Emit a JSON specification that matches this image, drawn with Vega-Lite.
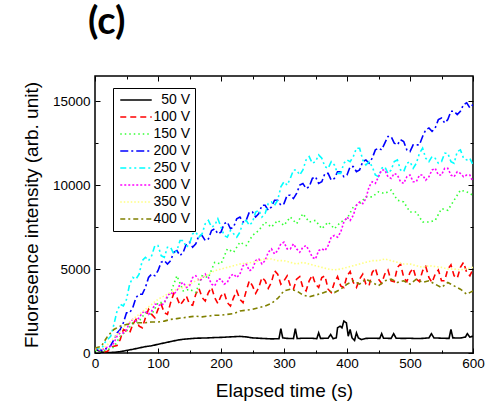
{
  "$schema": "https://vega.github.io/schema/vega-lite/v6.json",
  "width": 378,
  "height": 277,
  "autosize": {"type": "none"},
  "padding": {"left": 95, "top": 76, "right": 13, "bottom": 54},
  "background": "white",
  "title": {"text": "(c)", "anchor": "start", "frame": "group", "font": "Lato", "fontWeight": "bold", "fontSize": 38, "color": "black", "baseline": "alphabetic", "offset": 4, "dx": -7},
  "config": {
    "view": {"stroke": "black", "strokeWidth": 1.5},
    "axis": {"grid": false, "domain": false, "tickColor": "black", "tickWidth": 1, "labelFont": "Liberation Sans", "labelFontSize": 13.5, "labelColor": "black", "titleFont": "Liberation Sans", "titleFontSize": 19, "titleFontWeight": "normal", "titleColor": "black"},
    "legend": {"labelFont": "Liberation Sans", "labelFontSize": 14, "labelColor": "black"}
  },
  "data": {"values": [
    {"s":"50 V","t":0,"v":250},{"s":"50 V","t":5,"v":150},{"s":"50 V","t":10,"v":60},{"s":"50 V","t":20,"v":20},{"s":"50 V","t":30,"v":40},{"s":"50 V","t":40,"v":80},{"s":"50 V","t":50,"v":150},{"s":"50 V","t":60,"v":220},{"s":"50 V","t":70,"v":300},{"s":"50 V","t":80,"v":380},{"s":"50 V","t":90,"v":430},{"s":"50 V","t":100,"v":520},{"s":"50 V","t":110,"v":600},{"s":"50 V","t":120,"v":680},{"s":"50 V","t":130,"v":760},{"s":"50 V","t":140,"v":820},{"s":"50 V","t":150,"v":850},{"s":"50 V","t":160,"v":880},{"s":"50 V","t":170,"v":890},{"s":"50 V","t":180,"v":900},{"s":"50 V","t":190,"v":920},{"s":"50 V","t":200,"v":930},{"s":"50 V","t":210,"v":950},{"s":"50 V","t":220,"v":970},{"s":"50 V","t":230,"v":990},{"s":"50 V","t":240,"v":960},{"s":"50 V","t":250,"v":900},{"s":"50 V","t":260,"v":880},{"s":"50 V","t":270,"v":860},{"s":"50 V","t":280,"v":840},{"s":"50 V","t":292,"v":850},{"s":"50 V","t":295,"v":1450},{"s":"50 V","t":298,"v":900},{"s":"50 V","t":305,"v":870},{"s":"50 V","t":315,"v":860},{"s":"50 V","t":318,"v":1450},{"s":"50 V","t":321,"v":860},{"s":"50 V","t":330,"v":880},{"s":"50 V","t":345,"v":880},{"s":"50 V","t":352,"v":850},{"s":"50 V","t":355,"v":1200},{"s":"50 V","t":358,"v":870},{"s":"50 V","t":370,"v":880},{"s":"50 V","t":374,"v":1100},{"s":"50 V","t":378,"v":850},{"s":"50 V","t":383,"v":900},{"s":"50 V","t":385,"v":1500},{"s":"50 V","t":389,"v":1600},{"s":"50 V","t":392,"v":1500},{"s":"50 V","t":395,"v":1900},{"s":"50 V","t":399,"v":1800},{"s":"50 V","t":402,"v":1000},{"s":"50 V","t":405,"v":1400},{"s":"50 V","t":408,"v":900},{"s":"50 V","t":412,"v":750},{"s":"50 V","t":415,"v":1200},{"s":"50 V","t":418,"v":900},{"s":"50 V","t":423,"v":800},{"s":"50 V","t":430,"v":870},{"s":"50 V","t":440,"v":880},{"s":"50 V","t":452,"v":870},{"s":"50 V","t":455,"v":1150},{"s":"50 V","t":458,"v":880},{"s":"50 V","t":470,"v":870},{"s":"50 V","t":474,"v":1150},{"s":"50 V","t":478,"v":880},{"s":"50 V","t":490,"v":870},{"s":"50 V","t":500,"v":880},{"s":"50 V","t":510,"v":860},{"s":"50 V","t":520,"v":870},{"s":"50 V","t":530,"v":900},{"s":"50 V","t":534,"v":1150},{"s":"50 V","t":538,"v":900},{"s":"50 V","t":550,"v":880},{"s":"50 V","t":562,"v":870},{"s":"50 V","t":565,"v":1400},{"s":"50 V","t":568,"v":900},{"s":"50 V","t":580,"v":890},{"s":"50 V","t":588,"v":950},{"s":"50 V","t":591,"v":1150},{"s":"50 V","t":595,"v":950},{"s":"50 V","t":600,"v":1000},

    {"s":"100 V","t":0,"v":200},{"s":"100 V","t":10,"v":150},{"s":"100 V","t":20,"v":100},{"s":"100 V","t":30,"v":400},{"s":"100 V","t":40,"v":800},{"s":"100 V","t":50,"v":1300},{"s":"100 V","t":60,"v":1700},{"s":"100 V","t":70,"v":1600},{"s":"100 V","t":80,"v":2100},{"s":"100 V","t":90,"v":2300},{"s":"100 V","t":100,"v":2600},{"s":"100 V","t":110,"v":2400},{"s":"100 V","t":120,"v":3000},{"s":"100 V","t":130,"v":3300},{"s":"100 V","t":140,"v":3100},{"s":"100 V","t":150,"v":2900},{"s":"100 V","t":160,"v":3500},{"s":"100 V","t":170,"v":3300},{"s":"100 V","t":180,"v":3600},{"s":"100 V","t":190,"v":3300},{"s":"100 V","t":200,"v":3400},{"s":"100 V","t":210,"v":3000},{"s":"100 V","t":220,"v":3300},{"s":"100 V","t":230,"v":3200},{"s":"100 V","t":240,"v":3700},{"s":"100 V","t":250,"v":4000},{"s":"100 V","t":260,"v":3900},{"s":"100 V","t":270,"v":4300},{"s":"100 V","t":280,"v":4200},{"s":"100 V","t":290,"v":4700},{"s":"100 V","t":300,"v":4300},{"s":"100 V","t":310,"v":4000},{"s":"100 V","t":320,"v":4400},{"s":"100 V","t":330,"v":3900},{"s":"100 V","t":340,"v":4300},{"s":"100 V","t":350,"v":4100},{"s":"100 V","t":360,"v":4500},{"s":"100 V","t":370,"v":3800},{"s":"100 V","t":380,"v":4200},{"s":"100 V","t":390,"v":4000},{"s":"100 V","t":400,"v":4600},{"s":"100 V","t":410,"v":4200},{"s":"100 V","t":420,"v":4400},{"s":"100 V","t":430,"v":4100},{"s":"100 V","t":440,"v":4800},{"s":"100 V","t":450,"v":4400},{"s":"100 V","t":460,"v":4700},{"s":"100 V","t":470,"v":4300},{"s":"100 V","t":480,"v":5100},{"s":"100 V","t":490,"v":4500},{"s":"100 V","t":500,"v":4800},{"s":"100 V","t":510,"v":4400},{"s":"100 V","t":520,"v":4900},{"s":"100 V","t":530,"v":4500},{"s":"100 V","t":540,"v":4700},{"s":"100 V","t":550,"v":4300},{"s":"100 V","t":560,"v":5000},{"s":"100 V","t":570,"v":4600},{"s":"100 V","t":580,"v":5100},{"s":"100 V","t":590,"v":4800},{"s":"100 V","t":600,"v":5000},
    {"s":"100 V","t":5,"v":250},{"s":"100 V","t":15,"v":80},{"s":"100 V","t":25,"v":350},{"s":"100 V","t":35,"v":450},{"s":"100 V","t":45,"v":1400},{"s":"100 V","t":55,"v":1200},{"s":"100 V","t":65,"v":2000},{"s":"100 V","t":75,"v":1500},{"s":"100 V","t":85,"v":2600},{"s":"100 V","t":95,"v":2100},{"s":"100 V","t":105,"v":2900},{"s":"100 V","t":115,"v":2300},{"s":"100 V","t":125,"v":3550},{"s":"100 V","t":135,"v":2850},{"s":"100 V","t":145,"v":3400},{"s":"100 V","t":155,"v":2850},{"s":"100 V","t":165,"v":3850},{"s":"100 V","t":175,"v":3100},{"s":"100 V","t":185,"v":3900},{"s":"100 V","t":195,"v":2950},{"s":"100 V","t":205,"v":3600},{"s":"100 V","t":215,"v":2800},{"s":"100 V","t":225,"v":3700},{"s":"100 V","t":235,"v":3000},{"s":"100 V","t":245,"v":4300},{"s":"100 V","t":255,"v":3550},{"s":"100 V","t":265,"v":4500},{"s":"100 V","t":275,"v":3850},{"s":"100 V","t":285,"v":4900},{"s":"100 V","t":295,"v":4100},{"s":"100 V","t":305,"v":4600},{"s":"100 V","t":315,"v":3800},{"s":"100 V","t":325,"v":4550},{"s":"100 V","t":335,"v":3700},{"s":"100 V","t":345,"v":4650},{"s":"100 V","t":355,"v":3900},{"s":"100 V","t":365,"v":4600},{"s":"100 V","t":375,"v":3600},{"s":"100 V","t":385,"v":4550},{"s":"100 V","t":395,"v":3900},{"s":"100 V","t":405,"v":4850},{"s":"100 V","t":415,"v":3900},{"s":"100 V","t":425,"v":4700},{"s":"100 V","t":435,"v":4000},{"s":"100 V","t":445,"v":5050},{"s":"100 V","t":455,"v":4150},{"s":"100 V","t":465,"v":4950},{"s":"100 V","t":475,"v":4250},{"s":"100 V","t":485,"v":5300},{"s":"100 V","t":495,"v":4250},{"s":"100 V","t":505,"v":5050},{"s":"100 V","t":515,"v":4250},{"s":"100 V","t":525,"v":5150},{"s":"100 V","t":535,"v":4200},{"s":"100 V","t":545,"v":4950},{"s":"100 V","t":555,"v":4300},{"s":"100 V","t":565,"v":5250},{"s":"100 V","t":575,"v":4450},{"s":"100 V","t":585,"v":5400},{"s":"100 V","t":595,"v":4600},

    {"s":"150 V","t":0,"v":150},{"s":"150 V","t":10,"v":100},{"s":"150 V","t":20,"v":200},{"s":"150 V","t":30,"v":350},{"s":"150 V","t":40,"v":1000},{"s":"150 V","t":50,"v":1300},{"s":"150 V","t":60,"v":1800},{"s":"150 V","t":70,"v":1900},{"s":"150 V","t":80,"v":2400},{"s":"150 V","t":90,"v":2300},{"s":"150 V","t":100,"v":3000},{"s":"150 V","t":110,"v":3000},{"s":"150 V","t":120,"v":3600},{"s":"150 V","t":130,"v":4600},{"s":"150 V","t":140,"v":3700},{"s":"150 V","t":150,"v":3800},{"s":"150 V","t":160,"v":3600},{"s":"150 V","t":170,"v":4600},{"s":"150 V","t":180,"v":4500},{"s":"150 V","t":190,"v":5400},{"s":"150 V","t":200,"v":5300},{"s":"150 V","t":210,"v":6200},{"s":"150 V","t":220,"v":6000},{"s":"150 V","t":230,"v":6600},{"s":"150 V","t":240,"v":6400},{"s":"150 V","t":250,"v":7000},{"s":"150 V","t":260,"v":7300},{"s":"150 V","t":270,"v":7800},{"s":"150 V","t":280,"v":7500},{"s":"150 V","t":290,"v":7900},{"s":"150 V","t":300,"v":7600},{"s":"150 V","t":310,"v":8100},{"s":"150 V","t":320,"v":7700},{"s":"150 V","t":330,"v":8300},{"s":"150 V","t":340,"v":7800},{"s":"150 V","t":350,"v":7900},{"s":"150 V","t":360,"v":7400},{"s":"150 V","t":370,"v":7800},{"s":"150 V","t":380,"v":7400},{"s":"150 V","t":390,"v":7800},{"s":"150 V","t":400,"v":8000},{"s":"150 V","t":410,"v":8700},{"s":"150 V","t":420,"v":8900},{"s":"150 V","t":430,"v":9300},{"s":"150 V","t":440,"v":9300},{"s":"150 V","t":450,"v":9600},{"s":"150 V","t":460,"v":9500},{"s":"150 V","t":470,"v":9700},{"s":"150 V","t":480,"v":9100},{"s":"150 V","t":490,"v":9000},{"s":"150 V","t":500,"v":8400},{"s":"150 V","t":510,"v":8400},{"s":"150 V","t":520,"v":7800},{"s":"150 V","t":530,"v":7800},{"s":"150 V","t":540,"v":7900},{"s":"150 V","t":550,"v":8600},{"s":"150 V","t":560,"v":8500},{"s":"150 V","t":570,"v":9100},{"s":"150 V","t":580,"v":9700},{"s":"150 V","t":590,"v":9600},{"s":"150 V","t":600,"v":9400},

    {"s":"200 V","t":0,"v":300},{"s":"200 V","t":10,"v":150},{"s":"200 V","t":20,"v":250},{"s":"200 V","t":30,"v":800},{"s":"200 V","t":40,"v":1400},{"s":"200 V","t":50,"v":2400},{"s":"200 V","t":60,"v":2700},{"s":"200 V","t":70,"v":3500},{"s":"200 V","t":80,"v":3900},{"s":"200 V","t":90,"v":4700},{"s":"200 V","t":100,"v":4900},{"s":"200 V","t":110,"v":5500},{"s":"200 V","t":120,"v":5500},{"s":"200 V","t":130,"v":6100},{"s":"200 V","t":140,"v":6000},{"s":"200 V","t":150,"v":6600},{"s":"200 V","t":160,"v":6500},{"s":"200 V","t":170,"v":7000},{"s":"200 V","t":180,"v":6800},{"s":"200 V","t":190,"v":7400},{"s":"200 V","t":200,"v":7200},{"s":"200 V","t":210,"v":7800},{"s":"200 V","t":220,"v":7500},{"s":"200 V","t":230,"v":8100},{"s":"200 V","t":240,"v":7900},{"s":"200 V","t":250,"v":8400},{"s":"200 V","t":260,"v":8300},{"s":"200 V","t":270,"v":8800},{"s":"200 V","t":280,"v":8700},{"s":"200 V","t":290,"v":9100},{"s":"200 V","t":300,"v":8900},{"s":"200 V","t":310,"v":9400},{"s":"200 V","t":320,"v":9500},{"s":"200 V","t":330,"v":10100},{"s":"200 V","t":340,"v":9900},{"s":"200 V","t":350,"v":10500},{"s":"200 V","t":360,"v":10200},{"s":"200 V","t":370,"v":10700},{"s":"200 V","t":380,"v":10400},{"s":"200 V","t":390,"v":10800},{"s":"200 V","t":400,"v":10600},{"s":"200 V","t":410,"v":11100},{"s":"200 V","t":420,"v":10900},{"s":"200 V","t":430,"v":11500},{"s":"200 V","t":440,"v":11600},{"s":"200 V","t":450,"v":12200},{"s":"200 V","t":460,"v":12500},{"s":"200 V","t":470,"v":12900},{"s":"200 V","t":480,"v":12400},{"s":"200 V","t":490,"v":12600},{"s":"200 V","t":500,"v":12000},{"s":"200 V","t":510,"v":12400},{"s":"200 V","t":520,"v":12900},{"s":"200 V","t":530,"v":13400},{"s":"200 V","t":540,"v":13400},{"s":"200 V","t":550,"v":14000},{"s":"200 V","t":560,"v":13900},{"s":"200 V","t":570,"v":14400},{"s":"200 V","t":580,"v":14400},{"s":"200 V","t":590,"v":14900},{"s":"200 V","t":600,"v":14800},
    {"s":"200 V","t":5,"v":200},{"s":"200 V","t":15,"v":250},{"s":"200 V","t":25,"v":450},{"s":"200 V","t":35,"v":1200},{"s":"200 V","t":45,"v":1800},{"s":"200 V","t":55,"v":2400},{"s":"200 V","t":65,"v":3300},{"s":"200 V","t":75,"v":3500},{"s":"200 V","t":85,"v":4500},{"s":"200 V","t":95,"v":4600},{"s":"200 V","t":105,"v":5400},{"s":"200 V","t":115,"v":5300},{"s":"200 V","t":125,"v":6000},{"s":"200 V","t":135,"v":5800},{"s":"200 V","t":145,"v":6500},{"s":"200 V","t":155,"v":6300},{"s":"200 V","t":165,"v":7000},{"s":"200 V","t":175,"v":6700},{"s":"200 V","t":185,"v":7300},{"s":"200 V","t":195,"v":7100},{"s":"200 V","t":205,"v":7700},{"s":"200 V","t":215,"v":7400},{"s":"200 V","t":225,"v":8000},{"s":"200 V","t":235,"v":7800},{"s":"200 V","t":245,"v":8400},{"s":"200 V","t":255,"v":8100},{"s":"200 V","t":265,"v":8800},{"s":"200 V","t":275,"v":8500},{"s":"200 V","t":285,"v":9100},{"s":"200 V","t":295,"v":8800},{"s":"200 V","t":305,"v":9400},{"s":"200 V","t":315,"v":9200},{"s":"200 V","t":325,"v":10000},{"s":"200 V","t":335,"v":9800},{"s":"200 V","t":345,"v":10400},{"s":"200 V","t":355,"v":10100},{"s":"200 V","t":365,"v":10700},{"s":"200 V","t":375,"v":10300},{"s":"200 V","t":385,"v":10800},{"s":"200 V","t":395,"v":10500},{"s":"200 V","t":405,"v":11100},{"s":"200 V","t":415,"v":10800},{"s":"200 V","t":425,"v":11400},{"s":"200 V","t":435,"v":11300},{"s":"200 V","t":445,"v":12100},{"s":"200 V","t":455,"v":12100},{"s":"200 V","t":465,"v":12900},{"s":"200 V","t":475,"v":12500},{"s":"200 V","t":485,"v":12700},{"s":"200 V","t":495,"v":12100},{"s":"200 V","t":505,"v":12400},{"s":"200 V","t":515,"v":12400},{"s":"200 V","t":525,"v":13300},{"s":"200 V","t":535,"v":13200},{"s":"200 V","t":545,"v":13900},{"s":"200 V","t":555,"v":13700},{"s":"200 V","t":565,"v":14400},{"s":"200 V","t":575,"v":14200},{"s":"200 V","t":585,"v":14800},{"s":"200 V","t":595,"v":14600},

    {"s":"250 V","t":0,"v":300},{"s":"250 V","t":10,"v":200},{"s":"250 V","t":20,"v":800},{"s":"250 V","t":30,"v":1700},{"s":"250 V","t":40,"v":2900},{"s":"250 V","t":50,"v":3200},{"s":"250 V","t":60,"v":4500},{"s":"250 V","t":70,"v":4700},{"s":"250 V","t":80,"v":5700},{"s":"250 V","t":90,"v":5800},{"s":"250 V","t":100,"v":6400},{"s":"250 V","t":110,"v":5700},{"s":"250 V","t":120,"v":6300},{"s":"250 V","t":130,"v":6100},{"s":"250 V","t":140,"v":6700},{"s":"250 V","t":150,"v":6500},{"s":"250 V","t":160,"v":7200},{"s":"250 V","t":170,"v":7100},{"s":"250 V","t":180,"v":7900},{"s":"250 V","t":190,"v":7600},{"s":"250 V","t":200,"v":7500},{"s":"250 V","t":210,"v":6900},{"s":"250 V","t":220,"v":7100},{"s":"250 V","t":230,"v":7200},{"s":"250 V","t":240,"v":7900},{"s":"250 V","t":250,"v":7800},{"s":"250 V","t":260,"v":8500},{"s":"250 V","t":270,"v":8300},{"s":"250 V","t":280,"v":9000},{"s":"250 V","t":290,"v":9100},{"s":"250 V","t":300,"v":10200},{"s":"250 V","t":310,"v":10400},{"s":"250 V","t":320,"v":10900},{"s":"250 V","t":330,"v":10900},{"s":"250 V","t":340,"v":11700},{"s":"250 V","t":350,"v":11400},{"s":"250 V","t":360,"v":11600},{"s":"250 V","t":370,"v":11000},{"s":"250 V","t":380,"v":11200},{"s":"250 V","t":390,"v":10700},{"s":"250 V","t":400,"v":11500},{"s":"250 V","t":410,"v":11700},{"s":"250 V","t":420,"v":12200},{"s":"250 V","t":430,"v":11200},{"s":"250 V","t":440,"v":11100},{"s":"250 V","t":450,"v":10500},{"s":"250 V","t":460,"v":11100},{"s":"250 V","t":470,"v":10900},{"s":"250 V","t":480,"v":11500},{"s":"250 V","t":490,"v":10800},{"s":"250 V","t":500,"v":11400},{"s":"250 V","t":510,"v":11300},{"s":"250 V","t":520,"v":12200},{"s":"250 V","t":530,"v":11400},{"s":"250 V","t":540,"v":11600},{"s":"250 V","t":550,"v":11400},{"s":"250 V","t":560,"v":11900},{"s":"250 V","t":570,"v":11300},{"s":"250 V","t":580,"v":12100},{"s":"250 V","t":590,"v":11500},{"s":"250 V","t":600,"v":11200},
    {"s":"250 V","t":5,"v":250},{"s":"250 V","t":15,"v":600},{"s":"250 V","t":25,"v":1000},{"s":"250 V","t":35,"v":2500},{"s":"250 V","t":45,"v":2800},{"s":"250 V","t":55,"v":4100},{"s":"250 V","t":65,"v":4400},{"s":"250 V","t":75,"v":5500},{"s":"250 V","t":85,"v":5500},{"s":"250 V","t":95,"v":6400},{"s":"250 V","t":105,"v":5800},{"s":"250 V","t":115,"v":6300},{"s":"250 V","t":125,"v":5900},{"s":"250 V","t":135,"v":6700},{"s":"250 V","t":145,"v":6300},{"s":"250 V","t":155,"v":7100},{"s":"250 V","t":165,"v":6900},{"s":"250 V","t":175,"v":7700},{"s":"250 V","t":185,"v":7500},{"s":"250 V","t":195,"v":8000},{"s":"250 V","t":205,"v":7000},{"s":"250 V","t":215,"v":7300},{"s":"250 V","t":225,"v":6900},{"s":"250 V","t":235,"v":7800},{"s":"250 V","t":245,"v":7600},{"s":"250 V","t":255,"v":8400},{"s":"250 V","t":265,"v":8100},{"s":"250 V","t":275,"v":8900},{"s":"250 V","t":285,"v":8800},{"s":"250 V","t":295,"v":9900},{"s":"250 V","t":305,"v":10000},{"s":"250 V","t":315,"v":10900},{"s":"250 V","t":325,"v":10600},{"s":"250 V","t":335,"v":11500},{"s":"250 V","t":345,"v":11300},{"s":"250 V","t":355,"v":11800},{"s":"250 V","t":365,"v":11100},{"s":"250 V","t":375,"v":11400},{"s":"250 V","t":385,"v":10700},{"s":"250 V","t":395,"v":11300},{"s":"250 V","t":405,"v":11400},{"s":"250 V","t":415,"v":12200},{"s":"250 V","t":425,"v":11500},{"s":"250 V","t":435,"v":11400},{"s":"250 V","t":445,"v":10600},{"s":"250 V","t":455,"v":11000},{"s":"250 V","t":465,"v":10700},{"s":"250 V","t":475,"v":11400},{"s":"250 V","t":485,"v":10900},{"s":"250 V","t":495,"v":11300},{"s":"250 V","t":505,"v":11000},{"s":"250 V","t":515,"v":11900},{"s":"250 V","t":525,"v":11600},{"s":"250 V","t":535,"v":11700},{"s":"250 V","t":545,"v":11300},{"s":"250 V","t":555,"v":11900},{"s":"250 V","t":565,"v":11400},{"s":"250 V","t":575,"v":12000},{"s":"250 V","t":585,"v":11600},{"s":"250 V","t":595,"v":11600},

    {"s":"300 V","t":0,"v":300},{"s":"300 V","t":10,"v":150},{"s":"300 V","t":20,"v":350},{"s":"300 V","t":30,"v":600},{"s":"300 V","t":40,"v":1200},{"s":"300 V","t":50,"v":1400},{"s":"300 V","t":60,"v":2000},{"s":"300 V","t":70,"v":2100},{"s":"300 V","t":80,"v":2500},{"s":"300 V","t":90,"v":2500},{"s":"300 V","t":100,"v":2900},{"s":"300 V","t":110,"v":3000},{"s":"300 V","t":120,"v":3600},{"s":"300 V","t":130,"v":3700},{"s":"300 V","t":140,"v":4200},{"s":"300 V","t":150,"v":4000},{"s":"300 V","t":160,"v":4600},{"s":"300 V","t":170,"v":4400},{"s":"300 V","t":180,"v":4500},{"s":"300 V","t":190,"v":4000},{"s":"300 V","t":200,"v":4400},{"s":"300 V","t":210,"v":4200},{"s":"300 V","t":220,"v":4700},{"s":"300 V","t":230,"v":4700},{"s":"300 V","t":240,"v":5300},{"s":"300 V","t":250,"v":5000},{"s":"300 V","t":260,"v":5600},{"s":"300 V","t":270,"v":5500},{"s":"300 V","t":280,"v":6200},{"s":"300 V","t":290,"v":6100},{"s":"300 V","t":300,"v":6600},{"s":"300 V","t":310,"v":6200},{"s":"300 V","t":320,"v":6200},{"s":"300 V","t":330,"v":6300},{"s":"300 V","t":340,"v":6100},{"s":"300 V","t":350,"v":5600},{"s":"300 V","t":360,"v":6200},{"s":"300 V","t":370,"v":6400},{"s":"300 V","t":380,"v":7000},{"s":"300 V","t":390,"v":7200},{"s":"300 V","t":400,"v":8100},{"s":"300 V","t":410,"v":8200},{"s":"300 V","t":420,"v":9000},{"s":"300 V","t":430,"v":9200},{"s":"300 V","t":440,"v":10200},{"s":"300 V","t":450,"v":10500},{"s":"300 V","t":460,"v":10900},{"s":"300 V","t":470,"v":10400},{"s":"300 V","t":480,"v":10600},{"s":"300 V","t":490,"v":10100},{"s":"300 V","t":500,"v":10600},{"s":"300 V","t":510,"v":10200},{"s":"300 V","t":520,"v":10600},{"s":"300 V","t":530,"v":10500},{"s":"300 V","t":540,"v":11000},{"s":"300 V","t":550,"v":10600},{"s":"300 V","t":560,"v":11000},{"s":"300 V","t":570,"v":10500},{"s":"300 V","t":580,"v":10700},{"s":"300 V","t":590,"v":10600},{"s":"300 V","t":600,"v":10200},
    {"s":"300 V","t":5,"v":200},{"s":"300 V","t":15,"v":300},{"s":"300 V","t":25,"v":400},{"s":"300 V","t":35,"v":1000},{"s":"300 V","t":45,"v":1200},{"s":"300 V","t":55,"v":1800},{"s":"300 V","t":65,"v":1900},{"s":"300 V","t":75,"v":2400},{"s":"300 V","t":85,"v":2300},{"s":"300 V","t":95,"v":2900},{"s":"300 V","t":105,"v":2800},{"s":"300 V","t":115,"v":3400},{"s":"300 V","t":125,"v":3500},{"s":"300 V","t":135,"v":4100},{"s":"300 V","t":145,"v":3900},{"s":"300 V","t":155,"v":4500},{"s":"300 V","t":165,"v":4300},{"s":"300 V","t":175,"v":4700},{"s":"300 V","t":185,"v":4100},{"s":"300 V","t":195,"v":4400},{"s":"300 V","t":205,"v":4100},{"s":"300 V","t":215,"v":4600},{"s":"300 V","t":225,"v":4500},{"s":"300 V","t":235,"v":5200},{"s":"300 V","t":245,"v":4900},{"s":"300 V","t":255,"v":5500},{"s":"300 V","t":265,"v":5300},{"s":"300 V","t":275,"v":6000},{"s":"300 V","t":285,"v":5900},{"s":"300 V","t":295,"v":6500},{"s":"300 V","t":305,"v":6200},{"s":"300 V","t":315,"v":6500},{"s":"300 V","t":325,"v":6000},{"s":"300 V","t":335,"v":6400},{"s":"300 V","t":345,"v":5700},{"s":"300 V","t":355,"v":6100},{"s":"300 V","t":365,"v":6100},{"s":"300 V","t":375,"v":6900},{"s":"300 V","t":385,"v":6900},{"s":"300 V","t":395,"v":7800},{"s":"300 V","t":405,"v":7900},{"s":"300 V","t":415,"v":8800},{"s":"300 V","t":425,"v":8900},{"s":"300 V","t":435,"v":9900},{"s":"300 V","t":445,"v":10100},{"s":"300 V","t":455,"v":10900},{"s":"300 V","t":465,"v":10500},{"s":"300 V","t":475,"v":10700},{"s":"300 V","t":485,"v":10200},{"s":"300 V","t":495,"v":10500},{"s":"300 V","t":505,"v":10200},{"s":"300 V","t":515,"v":10600},{"s":"300 V","t":525,"v":10300},{"s":"300 V","t":535,"v":10900},{"s":"300 V","t":545,"v":10600},{"s":"300 V","t":555,"v":11000},{"s":"300 V","t":565,"v":10600},{"s":"300 V","t":575,"v":10800},{"s":"300 V","t":585,"v":10500},{"s":"300 V","t":595,"v":10600},

    {"s":"350 V","t":0,"v":250},{"s":"350 V","t":10,"v":200},{"s":"350 V","t":20,"v":500},{"s":"350 V","t":30,"v":900},{"s":"350 V","t":40,"v":1300},{"s":"350 V","t":50,"v":1700},{"s":"350 V","t":60,"v":2000},{"s":"350 V","t":70,"v":2300},{"s":"350 V","t":80,"v":2600},{"s":"350 V","t":90,"v":2900},{"s":"350 V","t":100,"v":3200},{"s":"350 V","t":110,"v":3400},{"s":"350 V","t":120,"v":3600},{"s":"350 V","t":130,"v":3800},{"s":"350 V","t":140,"v":3900},{"s":"350 V","t":150,"v":4100},{"s":"350 V","t":160,"v":4300},{"s":"350 V","t":170,"v":4500},{"s":"350 V","t":180,"v":4700},{"s":"350 V","t":190,"v":4900},{"s":"350 V","t":200,"v":5000},{"s":"350 V","t":210,"v":5100},{"s":"350 V","t":220,"v":5200},{"s":"350 V","t":230,"v":5300},{"s":"350 V","t":240,"v":5350},{"s":"350 V","t":250,"v":5400},{"s":"350 V","t":260,"v":5500},{"s":"350 V","t":270,"v":5600},{"s":"350 V","t":280,"v":5600},{"s":"350 V","t":290,"v":5500},{"s":"350 V","t":300,"v":5500},{"s":"350 V","t":310,"v":5400},{"s":"350 V","t":320,"v":5300},{"s":"350 V","t":330,"v":5400},{"s":"350 V","t":340,"v":5300},{"s":"350 V","t":350,"v":5200},{"s":"350 V","t":360,"v":5100},{"s":"350 V","t":370,"v":5000},{"s":"350 V","t":380,"v":4950},{"s":"350 V","t":390,"v":5000},{"s":"350 V","t":400,"v":5100},{"s":"350 V","t":410,"v":5200},{"s":"350 V","t":420,"v":5300},{"s":"350 V","t":430,"v":5400},{"s":"350 V","t":440,"v":5500},{"s":"350 V","t":450,"v":5500},{"s":"350 V","t":460,"v":5600},{"s":"350 V","t":470,"v":5500},{"s":"350 V","t":480,"v":5400},{"s":"350 V","t":490,"v":5300},{"s":"350 V","t":500,"v":5300},{"s":"350 V","t":510,"v":5200},{"s":"350 V","t":520,"v":5100},{"s":"350 V","t":530,"v":5200},{"s":"350 V","t":540,"v":5150},{"s":"350 V","t":550,"v":5100},{"s":"350 V","t":560,"v":5000},{"s":"350 V","t":570,"v":5000},{"s":"350 V","t":580,"v":4950},{"s":"350 V","t":590,"v":5000},{"s":"350 V","t":600,"v":5100},

    {"s":"400 V","t":0,"v":300},{"s":"400 V","t":10,"v":400},{"s":"400 V","t":20,"v":1000},{"s":"400 V","t":30,"v":1400},{"s":"400 V","t":40,"v":1600},{"s":"400 V","t":50,"v":1700},{"s":"400 V","t":60,"v":1750},{"s":"400 V","t":70,"v":1800},{"s":"400 V","t":80,"v":1800},{"s":"400 V","t":90,"v":1850},{"s":"400 V","t":100,"v":1850},{"s":"400 V","t":110,"v":1900},{"s":"400 V","t":120,"v":2000},{"s":"400 V","t":130,"v":2050},{"s":"400 V","t":140,"v":2100},{"s":"400 V","t":150,"v":2150},{"s":"400 V","t":160,"v":2200},{"s":"400 V","t":170,"v":2150},{"s":"400 V","t":180,"v":2200},{"s":"400 V","t":190,"v":2250},{"s":"400 V","t":200,"v":2250},{"s":"400 V","t":210,"v":2300},{"s":"400 V","t":220,"v":2350},{"s":"400 V","t":230,"v":2500},{"s":"400 V","t":240,"v":2550},{"s":"400 V","t":250,"v":2600},{"s":"400 V","t":260,"v":2700},{"s":"400 V","t":270,"v":2800},{"s":"400 V","t":280,"v":2950},{"s":"400 V","t":290,"v":3250},{"s":"400 V","t":300,"v":3700},{"s":"400 V","t":310,"v":3800},{"s":"400 V","t":320,"v":3700},{"s":"400 V","t":330,"v":3450},{"s":"400 V","t":340,"v":3350},{"s":"400 V","t":350,"v":3450},{"s":"400 V","t":360,"v":3550},{"s":"400 V","t":370,"v":3700},{"s":"400 V","t":380,"v":3600},{"s":"400 V","t":390,"v":3800},{"s":"400 V","t":400,"v":4100},{"s":"400 V","t":410,"v":4300},{"s":"400 V","t":420,"v":4100},{"s":"400 V","t":430,"v":4400},{"s":"400 V","t":440,"v":4200},{"s":"400 V","t":450,"v":4000},{"s":"400 V","t":460,"v":4300},{"s":"400 V","t":470,"v":4400},{"s":"400 V","t":480,"v":4200},{"s":"400 V","t":490,"v":4300},{"s":"400 V","t":500,"v":4100},{"s":"400 V","t":510,"v":4400},{"s":"400 V","t":520,"v":4200},{"s":"400 V","t":530,"v":4300},{"s":"400 V","t":540,"v":4100},{"s":"400 V","t":550,"v":3900},{"s":"400 V","t":560,"v":4200},{"s":"400 V","t":570,"v":4000},{"s":"400 V","t":580,"v":3800},{"s":"400 V","t":590,"v":3500},{"s":"400 V","t":600,"v":3700}
  ]},
  "layer": [
    {
      "mark": {"type": "line", "strokeWidth": 1.6, "clip": true},
      "encoding": {
        "x": {"field": "t", "type": "quantitative", "scale": {"domain": [0, 600], "nice": false},
              "axis": {"orient": "bottom", "title": "Elapsed time (s)", "values": [0,50,100,150,200,250,300,350,400,450,500,550,600],
                       "labelExpr": "datum.value % 100 == 0 ? datum.label : ''", "tickSize": {"condition": {"test": "datum.value % 100 == 0", "value": -5}, "value": -3},
                       "labelPadding": 8, "titlePadding": 12, "labelFlush": false}},
        "y": {"field": "v", "type": "quantitative", "scale": {"domain": [0, 16500], "nice": false},
              "axis": {"orient": "left", "title": "Fluoresence intensity (arb. unit)", "values": [0,2500,5000,7500,10000,12500,15000],
                       "labelExpr": "datum.value % 5000 == 0 ? datum.label : ''", "format": "d", "tickSize": {"condition": {"test": "datum.value % 5000 == 0", "value": -5}, "value": -3},
                       "labelPadding": 10, "titlePadding": 11, "labelFlush": false}},
        "color": {"field": "s", "type": "nominal",
                  "scale": {"domain": ["50 V","100 V","150 V","200 V","250 V","300 V","350 V","400 V"],
                            "range": ["#000000","#ff0000","#33ff33","#0000ff","#00ffff","#ff00ff","#ffff80","#808000"]},
                  "legend": {"title": null, "orient": "none", "legendX": 18, "legendY": 12, "symbolType": "M-3,0H3", "symbolSize": 110, "symbolStrokeWidth": 1.5,
                             "strokeColor": "black", "fillColor": "white", "padding": 5, "rowPadding": 3, "labelAlign": "right", "labelOffset": 47, "symbolOffset": 11}},
        "strokeDash": {"field": "s", "type": "nominal",
                  "scale": {"domain": ["50 V","100 V","150 V","200 V","250 V","300 V","350 V","400 V"],
                            "range": [[1,0],[6,4],[1.5,3],[8,3,2,3],[6,3,2,3,2,3],[2,2],[1.5,2],[5,3,2,3]]},
                  "legend": null}
      }
    },
    {
      "mark": {"type": "line", "strokeOpacity": 0},
      "encoding": {
        "x": {"field": "t", "type": "quantitative", "scale": {"domain": [0, 600], "nice": false},
              "axis": {"orient": "top", "title": null, "labels": false, "values": [0,50,100,150,200,250,300,350,400,450,500,550,600],
                       "tickSize": {"condition": {"test": "datum.value % 100 == 0", "value": -5}, "value": -3}}},
        "y": {"field": "v", "type": "quantitative", "scale": {"domain": [0, 16500], "nice": false},
              "axis": {"orient": "right", "title": null, "labels": false, "values": [0,2500,5000,7500,10000,12500,15000],
                       "tickSize": {"condition": {"test": "datum.value % 5000 == 0", "value": -5}, "value": -3}}}
      }
    }
  ],
  "resolve": {"axis": {"x": "independent", "y": "independent"}}
}
